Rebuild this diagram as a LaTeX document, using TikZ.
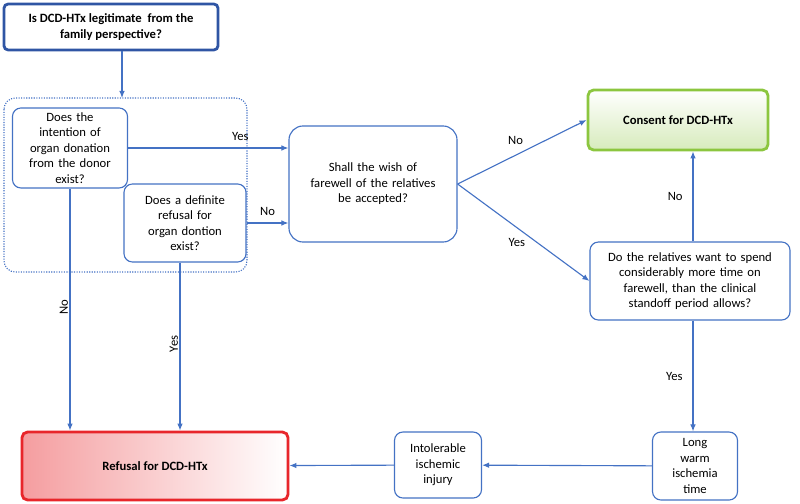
\documentclass[tikz,border=0pt]{standalone}
\usepackage{fontspec}
\setmainfont{Carlito}
\usetikzlibrary{positioning, arrows.meta, shapes.geometric}
\definecolor{lineblue}{HTML}{4472C4}
\definecolor{darkblue}{HTML}{2F55A4}
\definecolor{okgreen}{HTML}{8CC63F}
\definecolor{nored}{HTML}{E8262B}

\begin{document}
\begin{tikzpicture}[x=0.025cm, y=-0.025cm, font=\fontsize{9}{11}\selectfont,
    % Styles
    question/.style={draw=lineblue, fill=white, thick, rounded corners=6pt, align=center, inner sep=2pt},
    start/.style={draw=darkblue, fill=white, line width=2pt, rounded corners=3pt, align=center, font=\fontsize{9}{11}\selectfont\bfseries},
    consent/.style={draw=okgreen, line width=2pt, rounded corners=4pt, top color=white, bottom color=okgreen!35, align=center, font=\fontsize{9}{11}\selectfont\bfseries},
    refusal/.style={draw=nored, line width=2pt, rounded corners=4pt, left color=nored!45, right color=white, align=center, font=\fontsize{9}{11}\selectfont\bfseries},
    arrow/.style={-{Latex[length=5pt,width=4pt]}, lineblue, thick},
    lbl/.style={font=\fontsize{9}{11}\selectfont, text=black, inner sep=1pt},
]
\useasboundingbox (0,0) rectangle (800,504);

% Question from the family
\node[start, minimum width=5.35cm, minimum height=1.15cm] (family) at (111,27) {Is DCD-HTx legitimate \ from the\\family perspective?};

% Donor will
\draw[lineblue, densely dotted, thick, rounded corners=8pt] (4,98) rectangle (247,272);
\coordinate (group) at (122,98);
\node[question, minimum width=2.875cm, minimum height=2cm, text width=2.6cm] (intention) at (70,148) {Does the\\intention of\\organ donation\\from the donor\\exist?};
\node[question, minimum width=3.05cm, minimum height=1.95cm, text width=2.8cm] (refuse) at (185,223) {Does a definite\\refusal for\\organ dontion\\exist?};
\draw[arrow] (family.south -| group) -- (group);

% Farewell
\node[question, minimum width=4.2cm, minimum height=2.9cm, text width=3.9cm, rounded corners=10pt] (farewell) at (373,184) {Shall the wish of\\farewell of the relatives\\be accepted?};
\node[consent, minimum width=4.5cm, minimum height=1.5cm] (consent) at (678,120) {Consent for DCD-HTx};
\node[question, minimum width=5cm, minimum height=1.95cm, text width=4.8cm] (moretime) at (690,281) {Do the relatives want to spend\\considerably more time on\\farewell, than the clinical\\standoff period allows?};

% Outcome
\node[question, minimum width=2.125cm, minimum height=1.7cm, text width=1.9cm] (warm) at (695,466) {Long\\warm\\ischemia\\time};
\node[question, minimum width=2.175cm, minimum height=1.65cm, text width=2cm] (injury) at (438,465) {Intolerable\\ischemic\\injury};
\node[refusal, minimum width=6.65cm, minimum height=1.7cm] (refusal) at (155,466) {Refusal for DCD-HTx};

% Connectors
\draw[arrow] (intention.east |- 0,148) -- node[lbl, above=4pt, pos=0.7] {Yes} (farewell.west |- 0,148);
\draw[arrow] (refuse.east |- 0,223) -- node[lbl, above=4pt] {No} (farewell.west |- 0,223);
\draw[arrow] (intention.south) -- node[lbl, rotate=90, above=2pt] {No} (refusal.north -| intention.south);
\draw[arrow] (refuse.south -| 180,0) -- node[lbl, rotate=90, above=2pt] {Yes} (refusal.north -| 180,0);
\draw[arrow] (farewell.east) -- node[lbl, above=6pt, pos=0.45] {No} (consent.west);
\draw[arrow] (farewell.east) -- node[lbl, below=6pt, pos=0.45] {Yes} (moretime.west);
\draw[arrow] (moretime.north -| 693,0) -- node[lbl, left=6pt] {No} (consent.south -| 693,0);
\draw[arrow] (moretime.south -| 693,0) -- node[lbl, left=6pt] {Yes} (warm.north -| 693,0);
\draw[arrow] (warm) -- (injury);
\draw[arrow] (injury) -- (refusal);

\end{tikzpicture}
\end{document}
